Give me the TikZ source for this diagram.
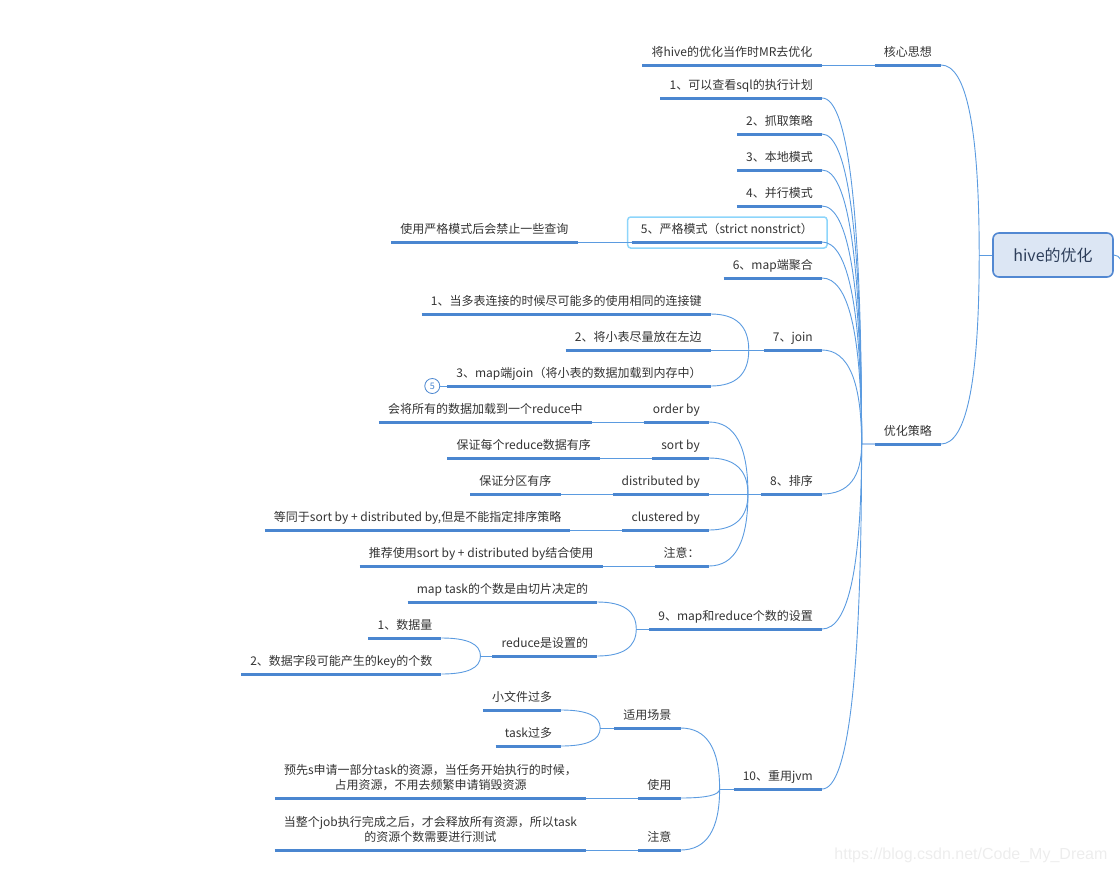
\documentclass[tikz,border=0pt]{standalone}
\usepackage{fontspec}
\setmainfont{Noto Sans CJK SC}
\newfontfamily\markfont{Liberation Sans}
\usetikzlibrary{calc,positioning}
\definecolor{lineblue}{HTML}{4A86D0}
\definecolor{wireblue}{HTML}{5B9BE0}
\definecolor{stubblue}{HTML}{A9C8EE}
\definecolor{txtgray}{HTML}{333333}
\definecolor{rootfill}{HTML}{DCE6F4}
\definecolor{rootline}{HTML}{5288D2}
\definecolor{roottext}{HTML}{2D3E5A}
\definecolor{selcyan}{HTML}{8DD5FB}

\tikzset{
  topic/.style={anchor=south east, inner xsep=9pt, inner ysep=5.8pt, text height=10pt, text depth=3pt,
    font=\fontsize{12pt}{15pt}\selectfont, text=txtgray},
  root/.style={draw=rootline, line width=1.6pt, fill=rootfill, rounded corners=6pt, minimum width=120pt,
    minimum height=44pt, font=\fontsize{16pt}{19pt}\selectfont, text=roottext},
  uline/.style={draw=lineblue, line width=3pt},
  conn/.style={draw=wireblue, line width=0.9pt},
  stub/.style={draw=stubblue, line width=1.2pt},
  selbox/.style={draw=selcyan, line width=1.5pt, rounded corners=3pt},
  fold/.style={circle, draw=lineblue, line width=0.8pt, fill=white, minimum size=15pt, inner sep=0pt,
    text=lineblue, font=\fontsize{9pt}{10pt}\selectfont},
  branch/.style={to path={.. controls ($(\tikztostart)!2/3!(\tikztostart|-\tikztotarget)$)
    and ($(\tikztotarget)!2/3!(\tikztostart|-\tikztotarget)$) .. (\tikztotarget)}},
}

\begin{document}
\begin{tikzpicture}[x=1pt,y=-1pt]
    \useasboundingbox (0,0) rectangle (1120,873);

    % Root
    \node[root] (hive) at (1053,255) {hive的优化};
    \coordinate (jr) at ([xshift=-13pt]hive.west);
    \coordinate (rout) at ([xshift=9pt,yshift=-14pt]hive.east);

    % Main branches
    \node[topic] (hx) at (941,65) {核心思想};
    \node[topic] (cl) at (941,444) {优化策略};
    \node[topic] (hxa) at ([xshift=-53pt]hx.south west) {将hive的优化当作时MR去优化};
    \coordinate (jcl) at ([xshift=-13pt]cl.south west);

    % Strategies
    \node[topic] (c1) at (822,98) {1、可以查看sql的执行计划};
    \node[topic] (c2) at (822,134) {2、抓取策略};
    \node[topic] (c3) at (822,170) {3、本地模式};
    \node[topic] (c4) at (822,206) {4、并行模式};
    \node[topic] (c5) at (822,242) {5、严格模式（strict nonstrict）};
    \node[topic] (c6) at (822,278) {6、map端聚合};
    \node[topic] (c7) at (822,350) {7、join};
    \node[topic] (c8) at (822,494) {8、排序};
    \node[topic] (c9) at (822,629) {9、map和reduce个数的设置};
    \node[topic] (c10) at (822,789) {10、重用jvm};

    % 5
    \node[topic] (c5a) at ([xshift=-54pt]c5.south west) {使用严格模式后会禁止一些查询};
    \draw[selbox] ([xshift=-4pt,yshift=-6pt]c5.south west) rectangle ([xshift=5pt]c5.north east);

    % 7
    \coordinate (j7) at ([xshift=-15pt]c7.south west);
    \node[topic] (c7a) at ([xshift=-38pt,yshift=36pt]j7) {1、当多表连接的时候尽可能多的使用相同的连接键};
    \node[topic] (c7b) at ([xshift=-38pt]j7) {2、将小表尽量放在左边};
    \node[topic] (c7c) at ([xshift=-38pt,yshift=-36pt]j7) {3、map端join（将小表的数据加载到内存中）};
    \node[fold, left=7pt of c7c.south west] (f7) {5};

    % 8
    \coordinate (j8) at ([xshift=-13pt]c8.south west);
    \node[topic] (s1) at ([xshift=-39pt,yshift=72pt]j8) {order by};
    \node[topic] (s2) at ([xshift=-39pt,yshift=36pt]j8) {sort by};
    \node[topic] (s3) at ([xshift=-39pt]j8) {distributed by};
    \node[topic] (s4) at ([xshift=-39pt,yshift=-36pt]j8) {clustered by};
    \node[topic] (s5) at ([xshift=-39pt,yshift=-72pt]j8) {注意：};
    \node[topic] (s1a) at ([xshift=-52pt]s1.south west) {会将所有的数据加载到一个reduce中};
    \node[topic] (s2a) at ([xshift=-52pt]s2.south west) {保证每个reduce数据有序};
    \node[topic] (s3a) at ([xshift=-52pt]s3.south west) {保证分区有序};
    \node[topic] (s4a) at ([xshift=-52pt]s4.south west) {等同于sort by + distributed by,但是不能指定排序策略};
    \node[topic] (s5a) at ([xshift=-52pt]s5.south west) {推荐使用sort by + distributed by结合使用};

    % 9
    \coordinate (j9) at ([xshift=-13pt]c9.south west);
    \node[topic] (m1) at ([xshift=-39pt,yshift=27pt]j9) {map task的个数是由切片决定的};
    \node[topic] (m2) at ([xshift=-39pt,yshift=-27pt]j9) {reduce是设置的};
    \coordinate (jm2) at ([xshift=-12pt]m2.south west);
    \node[topic] (m2a) at ([xshift=-39pt,yshift=18pt]jm2) {1、数据量};
    \node[topic] (m2b) at ([xshift=-39pt,yshift=-18pt]jm2) {2、数据字段可能产生的key的个数};

    % 10
    \coordinate (j10) at ([xshift=-14pt]c10.south west);
    \node[topic] (r1) at ([xshift=-39pt,yshift=61pt]j10) {适用场景};
    \node[topic] (r2) at ([xshift=-39pt,yshift=-9pt]j10) {使用};
    \node[topic] (r3) at ([xshift=-39pt,yshift=-61pt]j10) {注意};
    \coordinate (jr1) at ([xshift=-14pt]r1.south west);
    \node[topic] (r1a) at ([xshift=-39pt,yshift=18pt]jr1) {小文件过多};
    \node[topic] (r1b) at ([xshift=-39pt,yshift=-18pt]jr1) {task过多};
    \node[topic, minimum width=311pt] (r2a) at ([xshift=-52pt]r2.south west)
      {\begin{tabular}[b]{@{}c@{}}预先s申请一部分task的资源，当任务开始执行的时候，\\占用资源，不用去频繁申请销毁资源\end{tabular}};
    \node[topic, minimum width=311pt] (r3a) at ([xshift=-52pt]r3.south west)
      {\begin{tabular}[b]{@{}c@{}}当整个job执行完成之后，才会释放所有资源，所以task\\的资源个数需要进行测试\end{tabular}};

    % Underlines
    \foreach \n in {hx,hxa,cl,c1,c2,c3,c4,c5,c5a,c6,c7,c7a,c7b,c7c,c8,s1,s2,s3,s4,s5,s1a,s2a,s3a,s4a,s5a,
                    c9,m1,m2,m2a,m2b,c10,r1,r2,r3,r1a,r1b,r2a,r3a}
      \draw[uline] (\n.south west) -- (\n.south east);

    % Connectors
    \draw[conn] (jr) -- (hive.west);
    \draw[conn] (jr) to[branch] (hx.south east);
    \draw[conn] (jr) to[branch] (cl.south east);
    \draw[conn] (hive.east) to[out=0,in=90] (rout);
    \draw[conn] (hxa.south east) -- (hx.south west);
    \draw[stub] (jcl) -- (cl.south west);
    \foreach \n in {c1,c2,c3,c4,c5,c6,c7,c8,c9,c10}
      \draw[conn] (jcl) to[branch] (\n.south east);
    \draw[conn] (c5a.south east) -- (c5.south west);
    \draw[conn] (c7b.south east) -- (c7.south west);
    \draw[conn] (j7) to[branch] (c7a.south east);
    \draw[conn] (j7) to[branch] (c7c.south east);
    \draw[conn] (f7) -- (c7c.south west);
    \draw[conn] (s3.south east) -- (c8.south west);
    \foreach \n in {s1,s2,s4,s5}
      \draw[conn] (j8) to[branch] (\n.south east);
    \foreach \n in {s1,s2,s3,s4,s5}
      \draw[conn] (\n a.south east) -- (\n.south west);
    \draw[conn] (j9) -- (c9.south west);
    \draw[conn] (j9) to[branch] (m1.south east);
    \draw[conn] (j9) to[branch] (m2.south east);
    \draw[conn] (jm2) -- (m2.south west);
    \draw[conn] (jm2) to[branch] (m2a.south east);
    \draw[conn] (jm2) to[branch] (m2b.south east);
    \draw[conn] (j10) -- (c10.south west);
    \foreach \n in {r1,r2,r3}
      \draw[conn] (j10) to[branch] (\n.south east);
    \draw[conn] (jr1) -- (r1.south west);
    \draw[conn] (jr1) to[branch] (r1a.south east);
    \draw[conn] (jr1) to[branch] (r1b.south east);
    \draw[conn] (r2a.south east) -- (r2.south west);
    \draw[conn] (r3a.south east) -- (r3.south west);

    % Watermark
    \node[anchor=east, font=\markfont\fontsize{16pt}{18pt}\selectfont, text=black!7] (mark) at (1111,855)
      {https://blog.csdn.net/Code\_My\_Dream};
\end{tikzpicture}
\end{document}
